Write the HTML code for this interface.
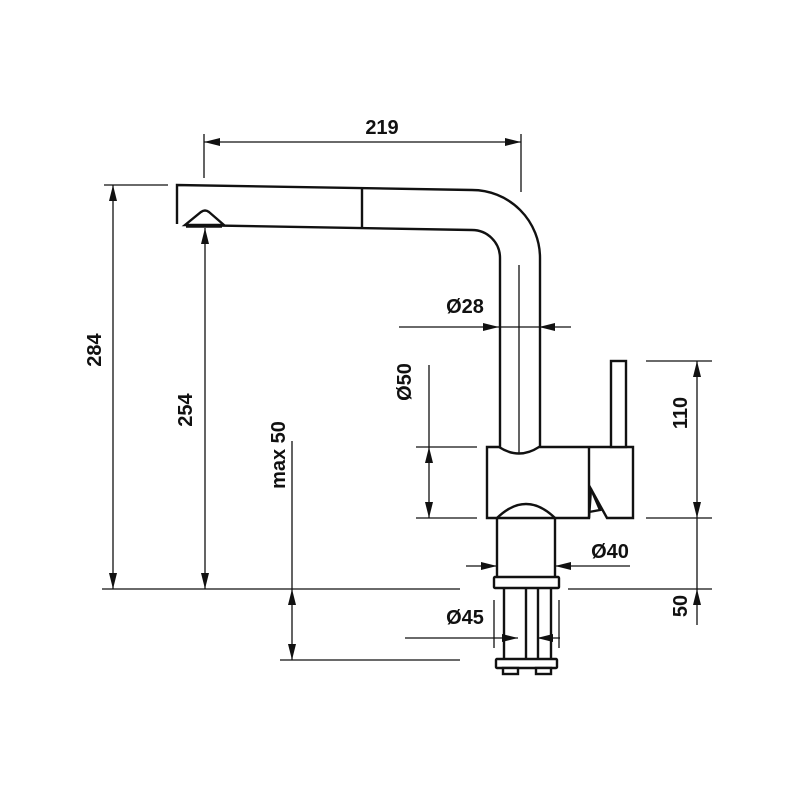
<!DOCTYPE html>
<html><head><meta charset="utf-8"><style>
html,body{margin:0;padding:0;background:#fff;}
svg{display:block;}
text{font-family:"Liberation Sans",Arial,sans-serif;font-weight:bold;font-size:20px;fill:#111;}
</style></head><body>
<svg width="800" height="800" viewBox="0 0 800 800" xmlns="http://www.w3.org/2000/svg">
<defs>
<marker id="a" viewBox="0 0 16 8" refX="16" refY="4" markerWidth="16" markerHeight="8" markerUnits="userSpaceOnUse" orient="auto-start-reverse">
<path d="M0,0 L16,4 L0,8 Z" fill="#111"/></marker>
</defs>
<g stroke="#111" fill="none" stroke-width="1.3">
<line x1="204" y1="142" x2="521" y2="142" marker-start="url(#a)" marker-end="url(#a)"/>
<line x1="204" y1="134" x2="204" y2="178"/>
<line x1="521" y1="134" x2="521" y2="192"/>
<line x1="104" y1="185" x2="168" y2="185"/>
<line x1="113" y1="185" x2="113" y2="589" marker-start="url(#a)" marker-end="url(#a)"/>
<line x1="102" y1="589" x2="460" y2="589"/>
<line x1="205" y1="228" x2="205" y2="589" marker-start="url(#a)" marker-end="url(#a)"/>
<line x1="292" y1="441" x2="292" y2="589"/>
<line x1="292" y1="589" x2="292" y2="660" marker-start="url(#a)" marker-end="url(#a)"/>
<line x1="280" y1="660" x2="460" y2="660"/>
<line x1="399" y1="327" x2="499" y2="327" marker-end="url(#a)"/>
<line x1="571" y1="327" x2="539" y2="327" marker-end="url(#a)"/>
<line x1="499" y1="327" x2="539" y2="327"/>
<line x1="429" y1="365" x2="429" y2="447"/>
<line x1="429" y1="447" x2="429" y2="518" marker-start="url(#a)" marker-end="url(#a)"/>
<line x1="416" y1="447" x2="477" y2="447"/>
<line x1="416" y1="518" x2="477" y2="518"/>
<line x1="646" y1="361" x2="712" y2="361"/>
<line x1="646" y1="518" x2="712" y2="518"/>
<line x1="697" y1="361" x2="697" y2="518" marker-start="url(#a)" marker-end="url(#a)"/>
<line x1="568" y1="589" x2="712" y2="589"/>
<line x1="697" y1="625" x2="697" y2="589" marker-end="url(#a)"/>
<line x1="697" y1="518" x2="697" y2="589"/>
<line x1="466" y1="566" x2="497" y2="566" marker-end="url(#a)"/>
<line x1="630" y1="566" x2="555" y2="566" marker-end="url(#a)"/>
<line x1="405" y1="638" x2="518" y2="638" marker-end="url(#a)"/>
<line x1="560" y1="638" x2="537" y2="638" marker-end="url(#a)"/>
<line x1="494" y1="600" x2="494" y2="648"/>
<line x1="559" y1="600" x2="559" y2="648"/>
<line x1="519" y1="265" x2="519" y2="465"/>
</g>
<g stroke="#111" fill="none" stroke-width="2.4">
<path d="M177,224 L177,185 L472,190 A68,68 0 0 1 540,258 L540,447"/>
<path d="M186,225 L472,230 A28,28 0 0 1 500,258 L500,447"/>
<line x1="362" y1="188" x2="362" y2="228"/>
<path d="M185,225 L201,212 Q205,209 209,212 L224,225 Z" fill="#fff"/>
<line x1="186" y1="226" x2="222" y2="226" stroke-width="3.5"/>
<path d="M487,447 L499,447 Q519,460 539,447 L633,447 L633,518 L607,518 L591,489 L589,518 L487,518 Z" fill="#fff"/>
<line x1="589" y1="447" x2="589" y2="518"/>
<path d="M591,489 L600,510 L589,512"/>
<rect x="611" y="361" width="15" height="86" fill="#fff"/>
<path d="M497,577 L497,518 Q526,490 555,518 L555,577"/>
<rect x="494" y="577" width="65" height="11" rx="1" fill="#fff"/>
<line x1="504" y1="588" x2="504" y2="659"/>
<line x1="526" y1="588" x2="526" y2="659"/>
<line x1="538" y1="588" x2="538" y2="659"/>
<line x1="551" y1="588" x2="551" y2="659"/>
<rect x="496" y="659" width="61" height="9" rx="1" fill="#fff"/>
<rect x="503" y="668" width="15" height="6" fill="#fff"/>
<rect x="536" y="668" width="15" height="6" fill="#fff"/>
</g>
<text x="382" y="134" text-anchor="middle">219</text>
<text x="465" y="313" text-anchor="middle">Ø28</text>
<text x="610" y="558" text-anchor="middle">Ø40</text>
<text x="465" y="624" text-anchor="middle">Ø45</text>
<text transform="translate(101,350) rotate(-90)" text-anchor="middle">284</text>
<text transform="translate(192,410) rotate(-90)" text-anchor="middle">254</text>
<text transform="translate(285,455) rotate(-90)" text-anchor="middle">max 50</text>
<text transform="translate(411,382) rotate(-90)" text-anchor="middle">Ø50</text>
<text transform="translate(687,413) rotate(-90)" text-anchor="middle">110</text>
<text transform="translate(687,606) rotate(-90)" text-anchor="middle">50</text>
</svg>
</body></html>
